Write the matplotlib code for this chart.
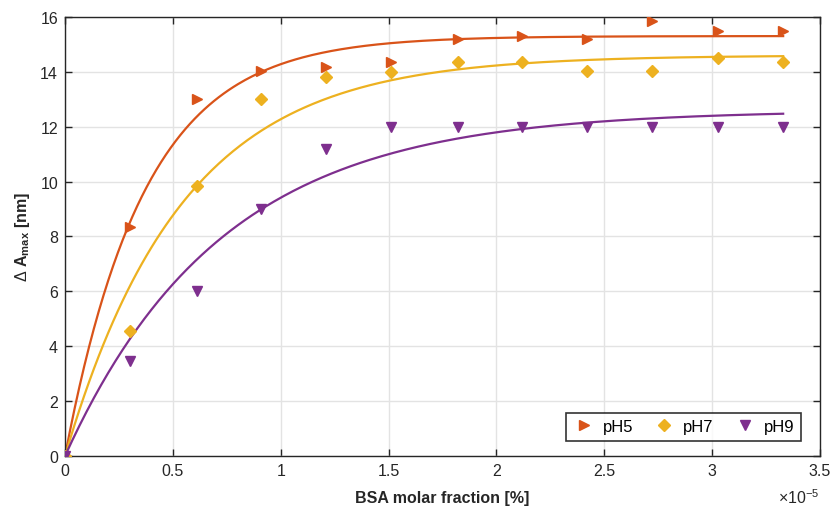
import numpy as np
import matplotlib
matplotlib.use("Agg")
import matplotlib.pyplot as plt
from matplotlib.ticker import FuncFormatter

plt.rcParams['font.family'] = ['Liberation Sans', 'DejaVu Sans']
plt.rcParams['mathtext.fontset'] = 'custom'
plt.rcParams['mathtext.rm'] = 'Liberation Sans'
plt.rcParams['mathtext.bf'] = 'Liberation Sans:bold'

# BSA molar fraction (x 1e-5 %)
fraction = [0, 0.30, 0.61, 0.91, 1.21, 1.51, 1.82, 2.12, 2.42, 2.72, 3.03, 3.33]
# measured shift of the absorbance maximum [nm]
ph5 = [0, 8.35, 13.0, 14.03, 14.18, 14.36, 15.2, 15.3, 15.2, 15.85, 15.5, 15.5]
ph7 = [0, 4.55, 9.84, 13.0, 13.8, 14.0, 14.36, 14.36, 14.03, 14.03, 14.5, 14.36]
ph9 = [0, 3.46, 6.0, 9.0, 11.2, 12.0, 12.0, 12.0, 12.0, 12.0, 12.0, 12.0]

# saturation fit y = A * (1 - exp(-x / k)), x in units of 1e-5
fit_A = {'pH5': 15.3, 'pH7': 14.6, 'pH9': 12.6}
fit_k = {'pH5': 0.37, 'pH7': 0.545, 'pH9': 0.728}

colors = {'pH5': '#D95319', 'pH7': '#EDB120', 'pH9': '#7E2F8E'}
markers = {'pH5': '>', 'pH7': 'D', 'pH9': 'v'}
msizes = {'pH5': 7.5, 'pH7': 6, 'pH9': 7.5}
series = {'pH5': ph5, 'pH7': ph7, 'pH9': ph9}

fig = plt.figure(figsize=(8.34, 5.10), dpi=100)
ax = fig.add_axes([0.078, 0.104, 0.905, 0.861])

x = np.array(fraction) * 1e-5
xf = np.linspace(0, fraction[-1], 300)
handles = []
for name in ['pH5', 'pH7', 'pH9']:
    yf = fit_A[name] * (1 - np.exp(-xf / fit_k[name]))
    ax.plot(xf * 1e-5, yf, color=colors[name], lw=1.6, zorder=2)
    h = ax.plot(x, series[name], ls='none', marker=markers[name],
                ms=msizes[name], color=colors[name], mec=colors[name],
                label=name, zorder=3)[0]
    handles.append(h)

ax.set_xlim(0, 3.5e-5)
ax.set_ylim(0, 16)
ax.set_xticks(np.arange(0, 3.51e-5, 0.5e-5))
ax.set_yticks(np.arange(0, 17, 2))
ax.xaxis.set_major_formatter(FuncFormatter(lambda v, p: f'{v / 1e-5:g}'))
ax.text(1.0, -0.072, r'$\times 10^{-5}$', transform=ax.transAxes,
        ha='right', va='top', fontsize=11.5, color='#262626')

ax.grid(True, color='#e3e3e3', lw=1.0)
ax.set_axisbelow(True)
ax.tick_params(direction='in', top=True, right=True, length=5,
               width=1.0, labelsize=11.5, colors='#262626', pad=5)
for s in ax.spines.values():
    s.set_color('#262626')
    s.set_linewidth(1.0)

ax.set_xlabel('BSA molar fraction [%]', fontsize=11.5, fontweight='bold',
              color='#262626', labelpad=9)
ax.set_ylabel(r'$\Delta$ $\mathbf{A_{max}}$ [nm]', fontsize=11.5,
              fontweight='bold', color='#262626', labelpad=6)

leg = ax.legend(handles=handles, loc='lower right', ncol=3, fontsize=12,
                frameon=True, fancybox=False, edgecolor='black',
                handlelength=1.3, columnspacing=1.2, handletextpad=0.5,
                borderaxespad=0.9, bbox_to_anchor=(0.995, 0.0))
leg.get_frame().set_linewidth(1.2)

fig.savefig('out.png', dpi=100)
